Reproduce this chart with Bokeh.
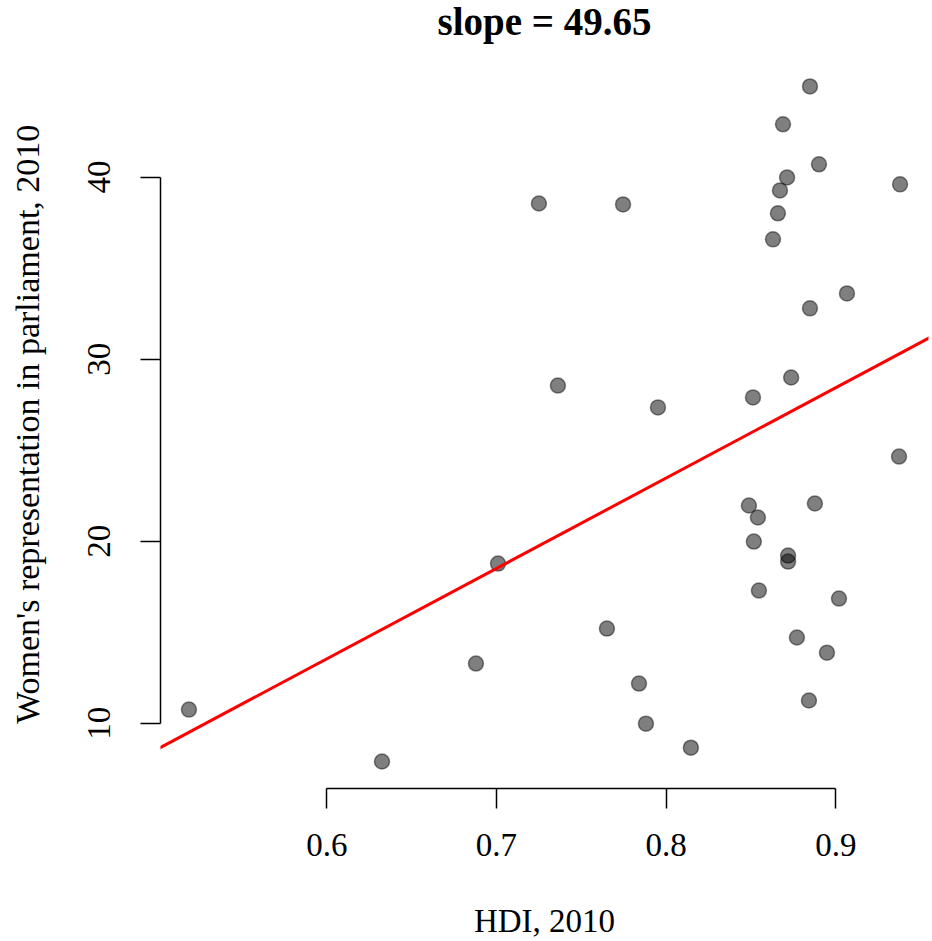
import numpy as np
from bokeh.plotting import figure
from bokeh.models import Range1d, FixedTicker, Slope, ColumnDataSource, Label
from bokeh.embed import file_html
from bokeh.resources import INLINE

# ---- data ----
hdi = [0.5187, 0.6325, 0.6879, 0.7009, 0.7250, 0.7362, 0.7651, 0.7746, 0.7840,
       0.7881, 0.7952, 0.8146, 0.8488, 0.8512, 0.8517, 0.8541, 0.8547, 0.8630,
       0.8659, 0.8671, 0.8689, 0.8713, 0.8719, 0.8719, 0.8737, 0.8771, 0.8842,
       0.8848, 0.8848, 0.8877, 0.8901, 0.8948, 0.9019, 0.9066, 0.9373, 0.9379]
women = [10.75, 7.90, 13.28, 18.77, 38.55, 28.55, 15.20, 38.50, 12.18,
         9.98, 27.35, 8.66, 21.96, 27.90, 19.98, 21.30, 17.29, 36.58,
         38.01, 39.27, 42.90, 39.98, 19.21, 18.88, 28.99, 14.71, 11.25,
         44.98, 32.79, 22.07, 40.70, 13.88, 16.85, 33.61, 24.65, 39.60]
x_ticks = [0.6, 0.7, 0.8, 0.9]
y_ticks = [10, 20, 30, 40]
SLOPE = 49.65
INTERCEPT = -16.25
title_text = f"slope = {SLOPE:.2f}"
x_title = "HDI, 2010"
y_title = "Women's representation in parliament, 2010"

FONT = "Liberation Serif"

# R-style 4% padding around the data
def padded(vals, frac=0.04):
    lo, hi = min(vals), max(vals)
    d = hi - lo
    return lo - frac * d, hi + frac * d

x0, x1 = padded(hdi)
y0, y1 = padded(women)

W, H = 932, 941
ML, MR, MB = 160, 4, 152
TOP_MARGIN = 59                 # R's top margin (title area), in px
PLOT_H = H - MB - TOP_MARGIN    # height of the R plot region
# the frame runs up to the top of the canvas; extend the y range so that
# the data mapping is the same as a plot region of height PLOT_H
y1_ext = y1 + TOP_MARGIN * (y1 - y0) / PLOT_H
frame_w = W - ML - MR
frame_h = H - MB

# the y label is centred on the (taller) frame: pad its top end so that the
# visible words are centred on the R plot region instead
y_label_shown = y_title + "\u00a0" * 7

p = figure(width=W, height=H, output_backend="svg", toolbar_location=None,
           x_range=Range1d(x0, x1), y_range=Range1d(y0, y1_ext),
           min_border_left=ML, min_border_right=MR,
           min_border_top=0, min_border_bottom=MB,
           x_axis_label=x_title, y_axis_label=y_label_shown)
p.outline_line_color = None
p.xgrid.visible = False
p.ygrid.visible = False
p.background_fill_color = "white"
p.border_fill_color = "white"

src = ColumnDataSource(dict(x=hdi, y=women))
p.scatter("x", "y", source=src, size=15, marker="circle",
          fill_color="black", fill_alpha=0.5,
          line_color="black", line_alpha=0.45, line_width=1.5)

p.add_layout(Slope(gradient=SLOPE, y_intercept=INTERCEPT,
                   line_color="red", line_width=3))

p.add_layout(Label(x=frame_w / 2, y=frame_h - 22, x_units="screen", y_units="screen",
                   text=title_text, text_font=FONT, text_font_size="39px",
                   text_font_style="bold", text_align="center",
                   text_baseline="alphabetic", text_color="black"))

for ax, ticks in ((p.xaxis[0], x_ticks), (p.yaxis[0], y_ticks)):
    ax.ticker = FixedTicker(ticks=ticks, minor_ticks=[])
    ax.bounds = (ticks[0], ticks[-1])
    ax.axis_line_color = "black"
    ax.axis_line_width = 1.5
    ax.major_tick_line_color = "black"
    ax.major_tick_line_width = 1.5
    ax.major_tick_in = 0
    ax.major_tick_out = 20
    ax.minor_tick_line_color = None
    ax.major_label_text_font = FONT
    ax.major_label_text_font_size = "33px"
    ax.major_label_text_color = "black"
    ax.axis_label_text_font = FONT
    ax.axis_label_text_font_size = "33px"
    ax.axis_label_text_font_style = "normal"
    ax.axis_label_text_color = "black"

p.xaxis[0].major_label_standoff = 25
p.xaxis[0].axis_label_standoff = 44
p.yaxis[0].major_label_standoff = 30
p.yaxis[0].major_label_orientation = "vertical"
p.yaxis[0].axis_label_standoff = 40
p.yaxis[0].axis_label_text_font_size = "34px"

open("out.html", "w").write(file_html(p, INLINE))
